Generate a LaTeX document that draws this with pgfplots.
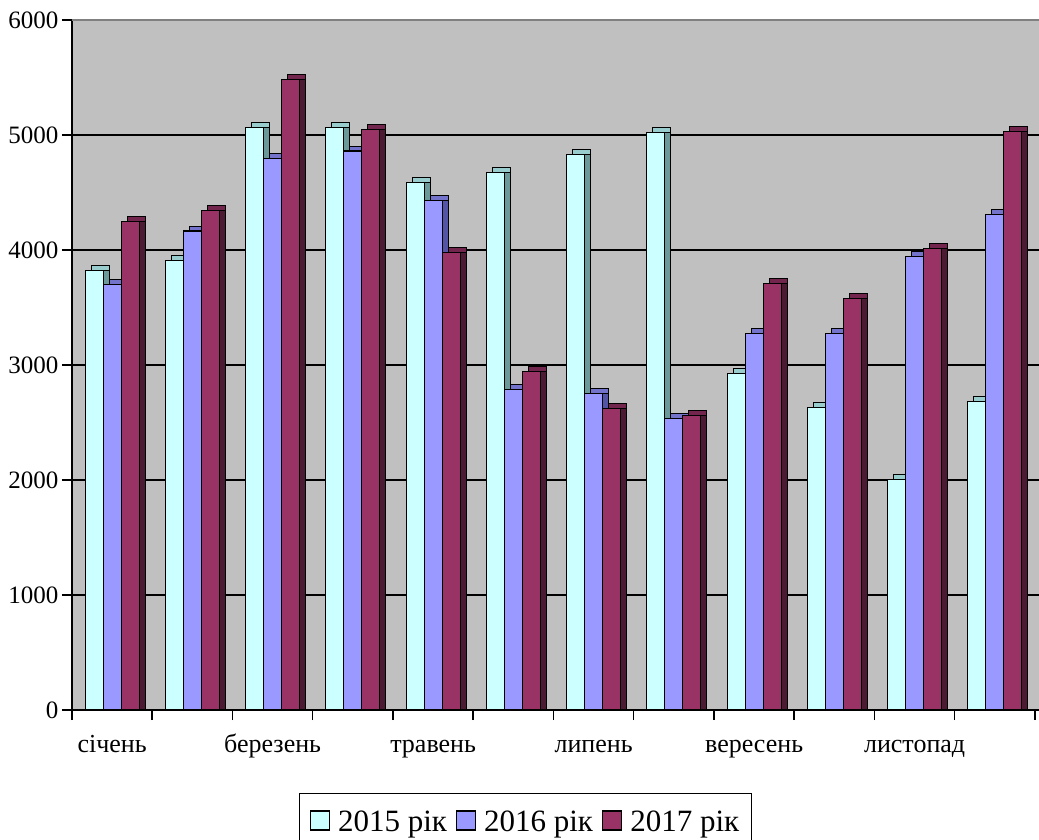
\documentclass[border=0pt]{standalone}
\usepackage{fontspec}
\setmainfont{Liberation Serif}
\usepackage{pgfplots}
\usepackage{pgfplotstable}
\pgfplotsset{compat=1.18}
\definecolor{cA}{HTML}{CCFFFF}
\definecolor{cB}{HTML}{9999FF}
\definecolor{cC}{HTML}{993366}
\definecolor{sA}{HTML}{6B9999}
\definecolor{sB}{HTML}{5353A8}
\definecolor{sC}{HTML}{4D1A33}
\definecolor{tA}{HTML}{99CCCC}
\definecolor{tB}{HTML}{7373CC}
\definecolor{tC}{HTML}{73264D}
\definecolor{wall}{HTML}{C0C0C0}
\pgfplotsset{sqlegend/.style={legend image code/.code={\draw[##1] (0pt,-8.5pt) rectangle (19pt,10.5pt);}}}

\pgfplotstableread{
x a b c
0 3825 3700 4250
1 3910 4165 4345
2 5065 4795 5480
3 5065 4860 5050
4 4585 4430 3980
5 4675 2790 2945
6 4830 2755 2625
7 5020 2535 2560
8 2925 3275 3710
9 2630 3275 3575
10 2005 3940 4010
11 2680 4310 5030
}\data

\begin{document}
\begin{tikzpicture}
\begin{axis}[
  at={(0,0)}, anchor=south west, scale only axis,
  width=967pt, height=690pt,
  xmin=-0.5, xmax=11.55, ymin=0, ymax=6000,
  axis x line=bottom, axis y line=left,
  axis line style={-, line width=1.5pt},
  axis background/.style={fill=wall},
  ymajorgrids, major grid style={black, line width=1.1pt},
  ytick={0,1000,...,6000},
  yticklabel style={font=\fontsize{25}{25}\selectfont, /pgf/number format/1000 sep={}},
  /pgf/number format/assume math mode=true,
  xtick={0,2,...,10},
  xticklabels={січень,березень,травень,липень,вересень,листопад},
  xticklabel style={font=\fontsize{26}{26}\selectfont, anchor=base, yshift=-32pt},
  major x tick style={draw=none},
  minor xtick={-0.5,0.5,...,11.5},
  tick align=outside,
  major tick length=10pt, minor tick length=10pt,
  tick style={black, line width=1.5pt},
  legend style={at={(0.469,-0.1203)}, anchor=north, legend columns=3,
    draw=black, line width=1pt, font=\fontsize{31}{31}\selectfont,
    nodes={inner sep=2pt},
    inner xsep=10pt, inner ysep=15pt,
    /tikz/every odd column/.append style={column sep=6pt},
    /tikz/every even column/.append style={column sep=7pt}},
  after end axis/.code={\draw[gray, line width=1.5pt] (rel axis cs:0,1) -- (rel axis cs:1,1);},
]
% 2015
\addplot[ybar, bar width=18pt, bar shift=-12pt, fill=tA, draw=black, line width=1pt, yshift=5pt, forget plot] table[x=x,y=a] {\data};
\addplot[ybar, bar width=6pt, bar shift=-6pt, fill=sA, draw=black, line width=1pt, forget plot] table[x=x,y=a] {\data};
\addplot[ybar, bar width=18pt, bar shift=-18pt, fill=cA, draw=black, line width=1.2pt, sqlegend] table[x=x,y=a] {\data};
% 2016
\addplot[ybar, bar width=18pt, bar shift=6pt, fill=tB, draw=black, line width=1pt, yshift=5pt, forget plot] table[x=x,y=b] {\data};
\addplot[ybar, bar width=6pt, bar shift=12pt, fill=sB, draw=black, line width=1pt, forget plot] table[x=x,y=b] {\data};
\addplot[ybar, bar width=18pt, bar shift=0pt, fill=cB, draw=black, line width=1.2pt, sqlegend] table[x=x,y=b] {\data};
% 2017
\addplot[ybar, bar width=18pt, bar shift=24pt, fill=tC, draw=black, line width=1pt, yshift=5pt, forget plot] table[x=x,y=c] {\data};
\addplot[ybar, bar width=6pt, bar shift=30pt, fill=sC, draw=black, line width=1pt, forget plot] table[x=x,y=c] {\data};
\addplot[ybar, bar width=18pt, bar shift=18pt, fill=cC, draw=black, line width=1.2pt, sqlegend] table[x=x,y=c] {\data};
\legend{2015 рік, 2016 рік, 2017 рік}
\end{axis}
\pgfresetboundingbox
\path[use as bounding box] (-72pt,-130pt) rectangle (967pt,710pt);
\end{tikzpicture}
\end{document}
